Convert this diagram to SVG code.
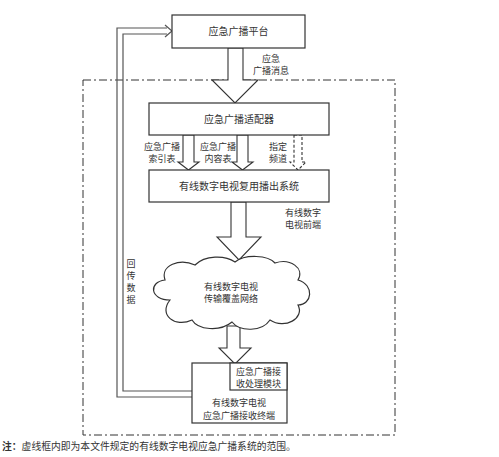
<svg xmlns="http://www.w3.org/2000/svg" width="499" height="457" viewBox="0 0 499 457">
<style>
.box{fill:#fff;stroke:#333;stroke-width:1.2}
.arr{fill:#fff;stroke:#333;stroke-width:1.1}
.ret{fill:none;stroke:#555;stroke-width:1.2}
.t{font-family:"Noto Sans CJK SC","Liberation Serif",serif;fill:#333;text-anchor:middle}
.b{font-size:10px}
.l{font-size:9px}
</style>
<rect width="499" height="457" fill="#fff"/>
<path d="M83,80 H395 V435 H83 Z" fill="none" stroke="#333" stroke-width="1" stroke-dasharray="8 3 2 3"/>
<g id="connectors">
  <polygon class="arr" points="228,48 243,48 243,80 258,80 235,103 212,80 228,80"/>
  <polygon class="arr" points="183,135 194,135 194,162 199,162 188.5,170 178,162 183,162"/>
  <polygon class="arr" points="237,135 248,135 248,162 253,162 242.5,170 232,162 237,162"/>
  <polygon class="arr" points="294,135 302,135 302,162 306,162 298,170 290,162 294,162" stroke-dasharray="3 2"/>
  <polygon class="arr" points="231,202 246,202 246,237 261,237 239,260 217,237 231,237"/>
  <polygon class="arr" points="227,326 240,326 240,348 251,348 235,364 219,348 227,348"/>
  <polyline class="ret" points="192,397 117,397 117,28 167,28"/>
  <polyline class="ret" points="192,391 123,391 123,34 167,34"/>
  <polyline class="ret" points="165,25 172,31 165,37"/>
</g>
<g id="platform">
  <rect class="box" x="172" y="15" width="133" height="33"/>
  <text class="t b" x="238.5" y="35">应急广播平台</text>
</g>
<g id="adapter">
  <rect class="box" x="149" y="103" width="180" height="32"/>
  <text class="t b" x="239" y="123">应急广播适配器</text>
</g>
<g id="mux">
  <rect class="box" x="149" y="170" width="180" height="32"/>
  <text class="t b" x="239" y="190">有线数字电视复用播出系统</text>
</g>
<g id="cloud">
  <path class="box" d="M170,300 C150,300 148,282 165,280 C160,265 180,258 195,265 C205,255 225,255 235,262 C245,254 268,255 275,263 C290,258 305,268 298,280 C315,285 312,305 298,305 C305,318 285,330 270,320 C262,332 240,332 232,322 C220,332 198,330 192,320 C175,328 158,315 170,300 Z"/>
  <text class="t l" x="231" y="290">有线数字电视</text>
  <text class="t l" x="231" y="302">传输覆盖网络</text>
</g>
<g id="terminal">
  <rect class="box" x="192" y="363" width="95" height="60"/>
  <rect class="box" x="230" y="363" width="57" height="27"/>
  <text class="t l" x="258.5" y="375">应急广播接</text>
  <text class="t l" x="258.5" y="387">收处理模块</text>
  <text class="t l" x="239" y="406">有线数字电视</text>
  <text class="t l" x="239" y="419">应急广播接收终端</text>
</g>
<g id="labels">
  <text class="t l" x="271" y="62">应急</text>
  <text class="t l" x="271" y="74">广播消息</text>
  <text class="t l" x="162" y="150">应急广播</text>
  <text class="t l" x="162" y="162">索引表</text>
  <text class="t l" x="218" y="150">应急广播</text>
  <text class="t l" x="218" y="162">内容表</text>
  <text class="t l" x="278" y="150">指定</text>
  <text class="t l" x="278" y="162">频道</text>
  <text class="t l" x="303" y="216">有线数字</text>
  <text class="t l" x="303" y="228">电视前端</text>
  <text class="t l" x="131" y="267">回</text>
  <text class="t l" x="131" y="279">传</text>
  <text class="t l" x="131" y="291">数</text>
  <text class="t l" x="131" y="303">据</text>
</g>
<text x="2" y="450" font-family="'Noto Sans CJK SC','Liberation Serif',serif" font-size="9.8" fill="#333"><tspan font-weight="bold">注：</tspan>虚线框内即为本文件规定的有线数字电视应急广播系统的范围。</text>
</svg>
